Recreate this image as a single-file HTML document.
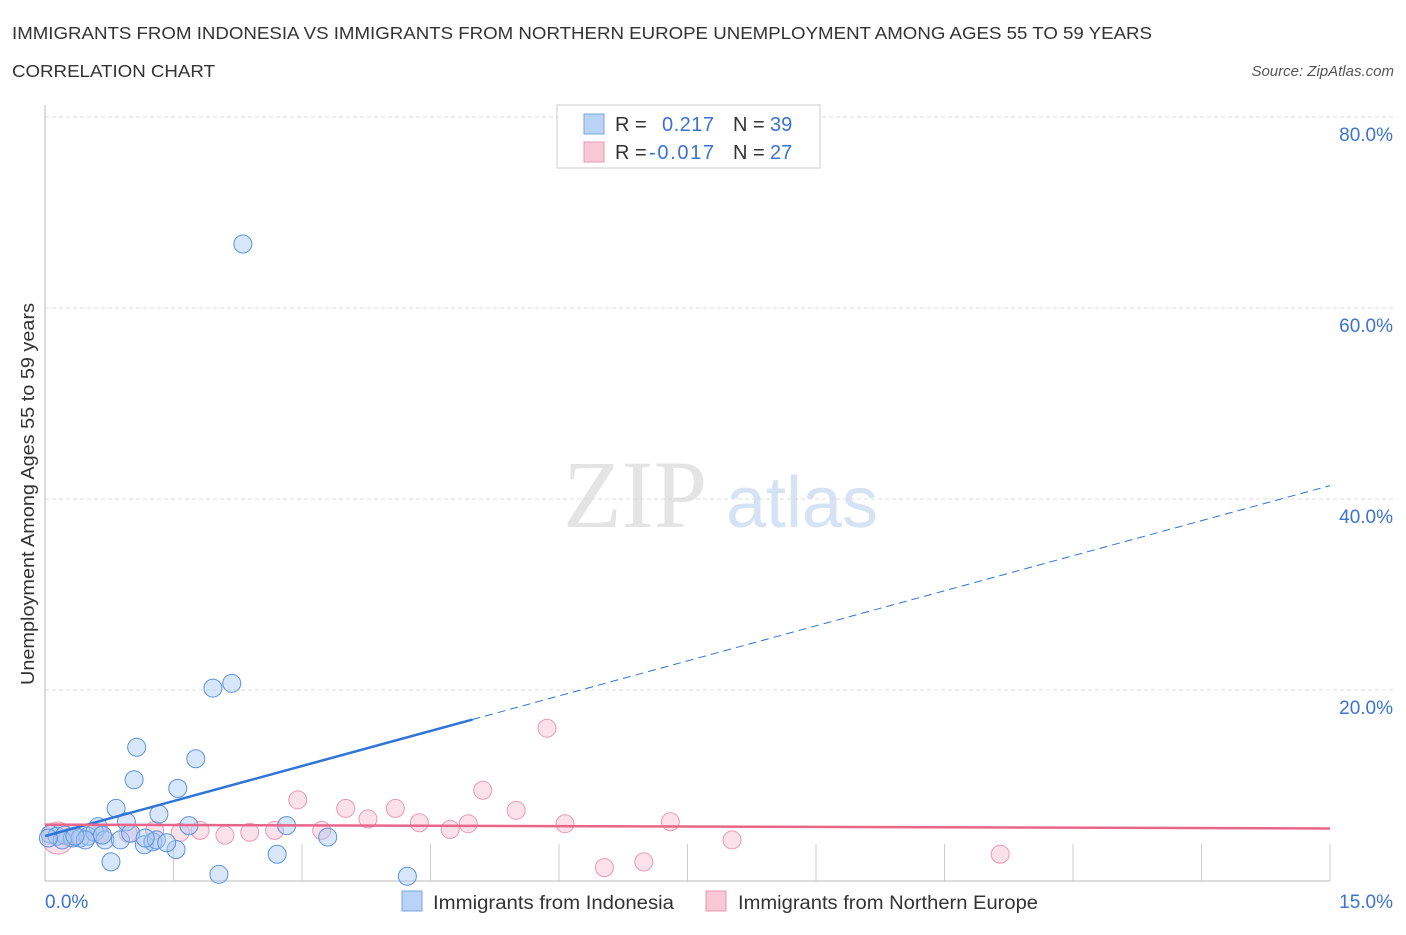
<!DOCTYPE html>
<html><head><meta charset="utf-8"><style>
body{margin:0;background:#fff;font-family:"Liberation Sans",sans-serif}
</style></head><body>
<svg width="1406" height="930" xmlns="http://www.w3.org/2000/svg" font-family="Liberation Sans, sans-serif">
<text x="12" y="39" font-size="17.5" fill="#333" textLength="1140" lengthAdjust="spacingAndGlyphs">IMMIGRANTS FROM INDONESIA VS IMMIGRANTS FROM NORTHERN EUROPE UNEMPLOYMENT AMONG AGES 55 TO 59 YEARS</text>
<text x="12" y="77" font-size="17.5" fill="#333" textLength="203" lengthAdjust="spacingAndGlyphs">CORRELATION CHART</text>
<text x="1394" y="76" font-size="15" fill="#555" font-style="italic" text-anchor="end">Source: ZipAtlas.com</text>
<g>
<text x="635" y="527" font-size="96" fill="#e4e4e4" font-family="Liberation Serif, serif" text-anchor="middle">ZIP</text>
<text x="802" y="527" font-size="72" fill="#d5e3f5" text-anchor="middle">atlas</text>
</g>
<g id="grid"></g>
<g id="axes"></g>
<g id="marks"></g>
<text x="34" y="494" font-size="18" fill="#333" text-anchor="middle" textLength="382" lengthAdjust="spacingAndGlyphs" transform="rotate(-90 34 494)">Unemployment Among Ages 55 to 59 years</text>
<g>
<rect x="557" y="105" width="263" height="63" fill="#fff" stroke="#ccc"/>
<rect x="584" y="114" width="20" height="20" fill="#b8d3f5" stroke="#7aa6e0"/>
<rect x="584" y="142" width="20" height="20" fill="#f8c8d6" stroke="#e898b0"/>
<text x="615" y="131" font-size="20" fill="#333">R =</text>
<text x="662" y="131" font-size="20" fill="#3a73d0" textLength="52">0.217</text>
<text x="733" y="131" font-size="20" fill="#333">N =</text>
<text x="770" y="131" font-size="20" fill="#3a73d0">39</text>
<text x="615" y="159" font-size="20" fill="#333">R =</text>
<text x="649" y="159" font-size="20" fill="#3a73d0" textLength="65">-0.017</text>
<text x="733" y="159" font-size="20" fill="#333">N =</text>
<text x="770" y="159" font-size="20" fill="#3a73d0">27</text>
</g>
<g>
<rect x="402" y="891" width="20" height="20" fill="#b8d3f5" stroke="#7aa6e0"/>
<text x="433" y="909" font-size="19" fill="#333" textLength="241" lengthAdjust="spacingAndGlyphs">Immigrants from Indonesia</text>
<rect x="706" y="891" width="20" height="20" fill="#f8c8d6" stroke="#e898b0"/>
<text x="738" y="909" font-size="19" fill="#333" textLength="300" lengthAdjust="spacingAndGlyphs">Immigrants from Northern Europe</text>
</g>
</svg>
<script>
const yTicks=[20,40,60,80];
const yTickLabels=["20.0%","40.0%","60.0%","80.0%"];
const xTickLabels=["0.0%","15.0%"];
const blueX=[2.31,2.18,1.96,1.07,1.76,1.04,1.55,0.83,1.33,0.95,0.62,1.68,2.82,3.30,0.06,0.14,0.23,0.32,0.41,0.50,0.58,0.70,0.88,1.00,1.16,1.26,1.30,1.53,1.42,0.77,2.03,2.71,4.23,0.20,0.47,0.67,0.04,1.17,0.35];
const blueY=[66.7,20.7,20.2,14.0,12.8,10.6,9.7,7.6,7.0,6.2,5.7,5.8,5.8,4.6,4.9,4.7,4.8,4.5,4.5,4.7,5.1,4.3,4.3,5.0,3.8,4.1,4.3,3.3,4.0,2.0,0.7,2.8,0.5,4.3,4.3,4.8,4.5,4.5,4.7];
const pinkX=[5.86,2.95,5.11,3.51,4.09,5.50,3.77,4.37,4.94,6.07,7.30,4.73,3.23,1.81,2.39,2.68,2.10,1.58,1.28,0.97,0.64,8.02,11.15,6.99,6.53,0.15,0.29];
const pinkY=[16.0,8.5,9.5,7.6,7.6,7.4,6.5,6.1,6.0,6.0,6.2,5.4,5.3,5.3,5.1,5.3,4.8,5.1,5.3,5.0,4.9,4.3,2.8,2.0,1.4,4.5,4.6];
const blueTrend=[4.7,41.4];
const pinkTrend=[5.9,5.5];
const X0=45,X1=1330,Y0=881,PX=191/20;
const sx=v=>X0+(v/15)*(X1-X0);
const sy=v=>Y0-v*PX;
const NS="http://www.w3.org/2000/svg";
function mk(t,a,p){const e=document.createElementNS(NS,t);for(const k in a)e.setAttribute(k,a[k]);p.appendChild(e);return e;}
const grid=document.getElementById('grid'),axes=document.getElementById('axes'),marks=document.getElementById('marks');
yTicks.forEach((t,i)=>{
 const l=mk('line',{x1:X0,x2:1395,y1:sy(t),y2:sy(t),stroke:'#ddd','stroke-dasharray':'4,3'},grid);
 
 
 const tx=mk('text',{x:1393,y:sy(t)+24,'font-size':19,fill:'#3a73d0','text-anchor':'end'},axes);
 tx.textContent=yTickLabels[i];
 
 
});
const ax=mk('line',{x1:X0,x2:X0,y1:105,y2:Y0,stroke:'#bbb'},axes);


const bx=mk('line',{x1:X0,x2:X1,y1:Y0,y2:Y0,stroke:'#bbb'},axes);


for(let i=1;i<=10;i++){const xv=i*1.5;const t=mk('line',{x1:sx(xv),x2:sx(xv),y1:Y0,y2:Y0-37,stroke:'#ccc'},axes);
 
 }
[[0,'start',45],[15,'end',1393]].forEach((d,i)=>{const t=mk('text',{x:d[2],y:908,'font-size':19,fill:'#3a73d0','text-anchor':d[1]},axes);t.textContent=xTickLabels[i];
 
 });
pinkX.forEach((x,i)=>{const c=mk('circle',{cx:sx(x),cy:sy(pinkY[i]),r:i==25?16:9,fill:'rgba(246,180,202,0.4)',stroke:'#ec9ab2','stroke-width':1},marks);
 
 });
blueX.forEach((x,i)=>{const c=mk('circle',{cx:sx(x),cy:sy(blueY[i]),r:9,fill:'rgba(168,200,242,0.45)',stroke:'#5b93dc','stroke-width':1},marks);
 
 });
const bAt=x=>blueTrend[0]+(blueTrend[1]-blueTrend[0])*x/15;
const t1=mk('line',{x1:sx(0),y1:sy(bAt(0)),x2:sx(4.99),y2:sy(bAt(4.99)),stroke:'#2f74d8','stroke-width':2.5},marks);


const t2=mk('line',{x1:sx(4.99),y1:sy(bAt(4.99)),x2:sx(15),y2:sy(bAt(15)),stroke:'#2f74d8','stroke-width':1,'stroke-dasharray':'8,5'},marks);


const t3=mk('line',{x1:sx(0),y1:sy(pinkTrend[0]),x2:sx(15),y2:sy(pinkTrend[1]),stroke:'#e8668a','stroke-width':2.5},marks);


</script>
</body></html>
